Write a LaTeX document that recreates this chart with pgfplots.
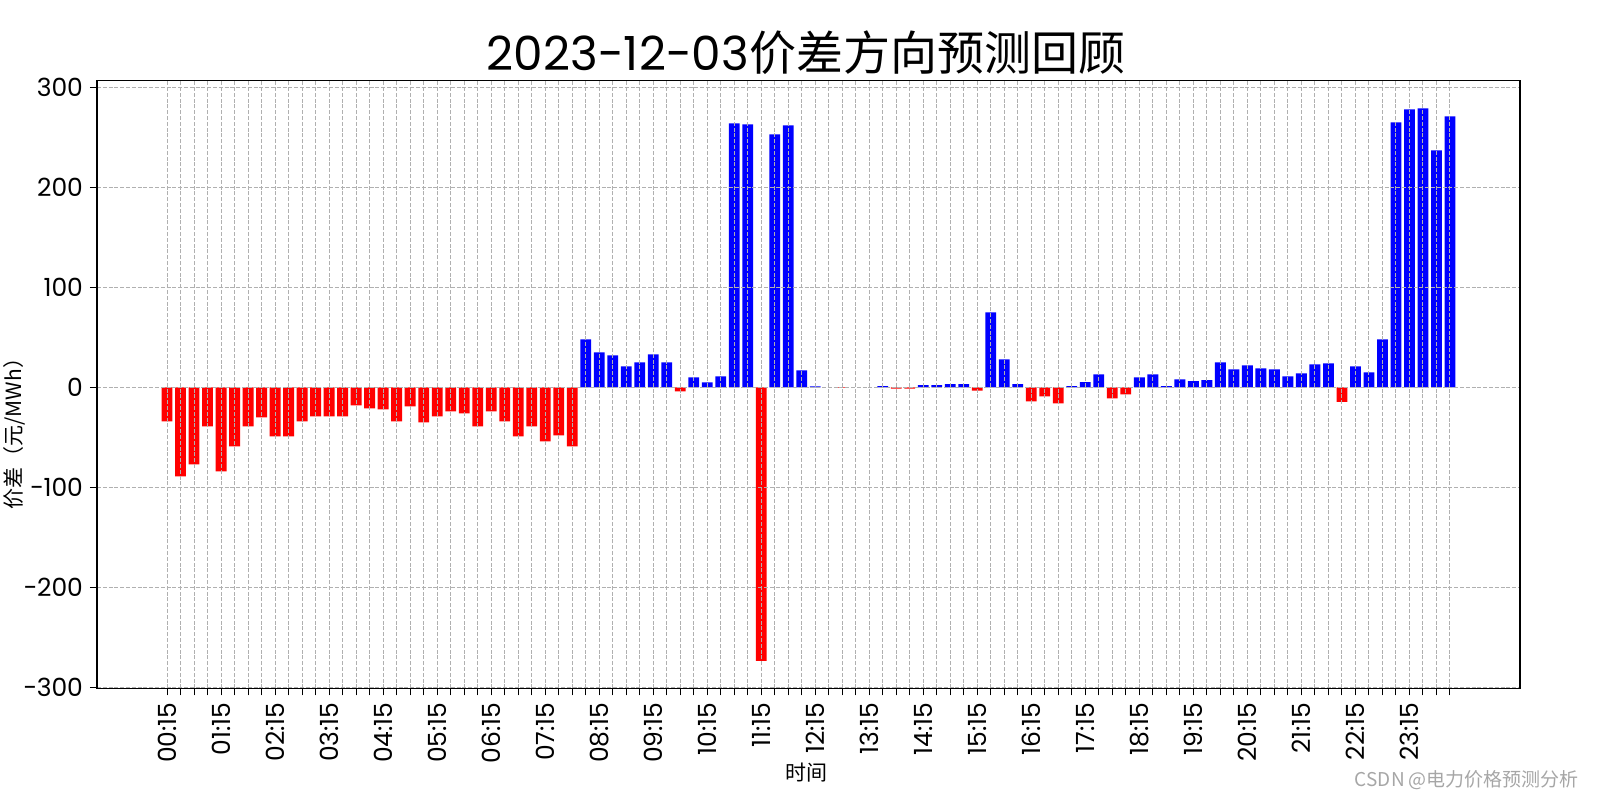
\documentclass[border=0pt]{standalone}
\usepackage{fontspec}
\usepackage{pgfplots}
\pgfplotsset{compat=1.18}
\setmainfont{Poppins}
\newfontfamily\cjk{Noto Sans CJK SC}
\definecolor{pbar}{RGB}{0,0,255}
\definecolor{nbar}{RGB}{255,0,0}
\definecolor{gridc}{RGB}{176,176,176}
\begin{document}
\begin{tikzpicture}[x=1pt,y=1pt]
\useasboundingbox (0,0) rectangle (800,400);
\begin{axis}[
  at={(48.5pt,55.8pt)}, anchor=south west,
  scale only axis, width=711.5pt, height=303.85pt,
  xmin=-5.19, xmax=100.19, ymin=-301.1, ymax=306.6,
  ybar, bar width=0.8,
  xtick={0,...,95},
  xticklabels={00:15,,,,01:15,,,,02:15,,,,03:15,,,,04:15,,,,05:15,,,,06:15,,,,07:15,,,,08:15,,,,09:15,,,,10:15,,,,11:15,,,,12:15,,,,13:15,,,,14:15,,,,15:15,,,,16:15,,,,17:15,,,,18:15,,,,19:15,,,,20:15,,,,21:15,,,,22:15,,,,23:15,,,},
  ytick={-300,-200,-100,0,100,200,300},
  yticklabels={{−300},{−200},{−100},0,100,200,300},
  x tick label style={rotate=90, anchor=east, font=\fontsize{12.5}{14}\selectfont},
  y tick label style={font=\fontsize{12.5}{14}\selectfont},
  tick align=outside, major tick length=3.5pt,
  xtick pos=bottom, ytick pos=left,
  tick style={black, line width=0.5pt},
  grid=major, grid style={gridc, line width=0.55pt, dash pattern=on 2pt off 0.9pt},
  axis on top,
  axis line style={black, line width=0.6pt},
]
\addplot[fill=nbar, draw=none, bar shift=0pt] coordinates {
(0,-34) (1,-89) (2,-77) (3,-39) (4,-84) (5,-59) (6,-39) (7,-30) (8,-49) (9,-49)
(10,-34) (11,-29) (12,-29) (13,-29) (14,-18) (15,-21) (16,-22) (17,-34) (18,-19) (19,-35)
(20,-29) (21,-24) (22,-26) (23,-39) (24,-24) (25,-34) (26,-49) (27,-39) (28,-54) (29,-48)
(30,-59) (38,-4) (44,-273.5) (50,-0.6) (54,-1.3) (55,-1.3) (60,-3.3) (64,-14) (65,-9) (66,-16)
(70,-11) (71,-7) (87,-14.5)
};
\addplot[fill=pbar, draw=none, bar shift=0pt] coordinates {
(31,48) (32,35) (33,32) (34,21) (35,25) (36,33) (37,25) (39,10) (40,5) (41,11)
(42,264) (43,263) (45,253) (46,262) (47,17) (48,1) (53,1.3) (56,2.3) (57,2.3) (58,3.3)
(59,3.3) (61,75) (62,28) (63,3.3) (67,1.3) (68,5.3) (69,13) (72,10) (73,13) (74,1.3)
(75,8) (76,6.3) (77,7.3) (78,25) (79,18) (80,22) (81,19) (82,18) (83,11) (84,14)
(85,23) (86,24) (88,21) (89,15) (90,48) (91,265) (92,278) (93,279) (94,237) (95,271)
};
\end{axis}
\node[font=\fontsize{23.5}{28}\selectfont] at (403,373.5) {2023-12-03{\cjk 价差方向预测回顾}};
\node[font=\cjk\fontsize{10.5}{12}\selectfont] at (403,13.7) {时间};
\node[font=\cjk\fontsize{10.5}{12}\selectfont, rotate=90] at (7,185.7) {价差（元/MWh）};
\node[font=\cjk\fontsize{9.5}{11}\selectfont, text=gray!70, anchor=east] at (793,9.7) {CSDN @电力价格预测分析};
\end{tikzpicture}
\end{document}
